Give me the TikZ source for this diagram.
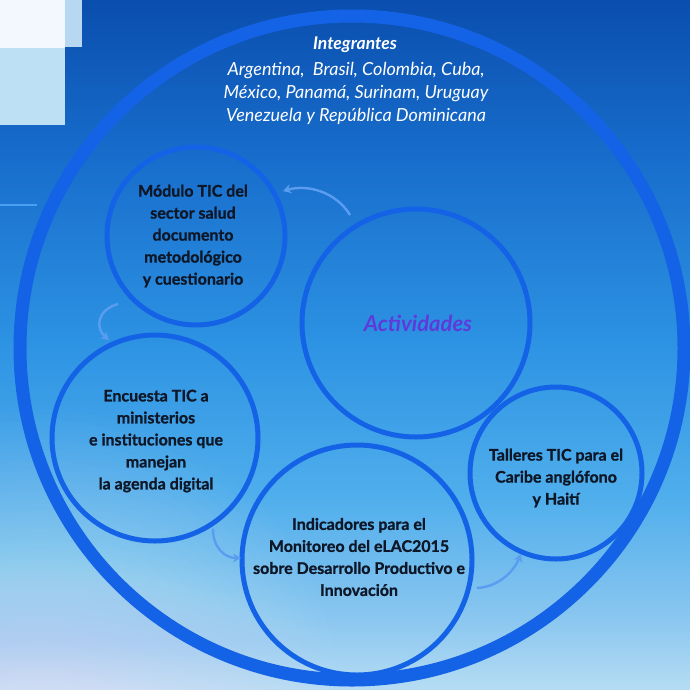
\documentclass[tikz,border=0pt]{standalone}
\usepackage{fontspec}
\setmainfont{Lato}
\newfontfamily\heavyfont[FakeBold=1.1]{Lato Bold}
\usetikzlibrary{arrows.meta}
\definecolor{bg0}{HTML}{0A4EAE}
\definecolor{bg1}{HTML}{176CCB}
\definecolor{bg2}{HTML}{2D93E3}
\definecolor{bg3}{HTML}{4FAEEC}
\definecolor{bg4}{HTML}{8BC7F0}
\definecolor{bg5}{HTML}{B5DCF3}
\definecolor{ring}{HTML}{1463E6}
\definecolor{arr}{HTML}{5A9DF0}
\definecolor{ink}{HTML}{0E1727}
\definecolor{act}{HTML}{5E3ADB}
\definecolor{rwhite}{HTML}{F2F8FD}
\definecolor{rpaleA}{HTML}{B8D8F1}
\definecolor{rpaleB}{HTML}{BEE0F5}
\definecolor{lline}{HTML}{4A9FF0}
\pgfdeclareverticalshading{bgshade}{100bp}{color(0bp)=(bg5); color(25bp)=(bg5); color(30bp)=(bg4); color(39bp)=(bg3); color(50bp)=(bg2); color(64bp)=(bg1); color(75bp)=(bg0); color(100bp)=(bg0)}
\tikzset{
  ringc/.style={draw=ring,line width=5pt},
  flow/.style={draw=arr,line width=2.4pt,-{Stealth[length=8pt,width=9pt]}},
  ctext/.style={align=center,text=ink,font=\fontsize{16}{22}\selectfont\heavyfont},
}
\begin{document}
\begin{tikzpicture}[x=1pt,y=-1pt]
\useasboundingbox (0,0) rectangle (690,689);
% background
\shade[shading=bgshade] (0,0) rectangle (690,689);
\begin{scope}
\clip (0,0) rectangle (690,689);
\foreach \r in {30,40,...,300} {\fill[white,opacity=0.018] (40,710) circle (\r);}
\end{scope}
% decorative rectangles top-left
\fill[rwhite] (0,0) rectangle (65,48);
\fill[rpaleA] (65,0) rectangle (82,47);
\fill[rpaleB] (0,48) rectangle (65,125);
\draw[lline,line width=2pt] (0,205) -- (37,205);
% big ring
\node[circle,draw=ring,line width=13pt,minimum size=664pt,inner sep=0] (big) at (352,348) {};
% title
\node[text=white,font=\fontsize{17.5}{20}\selectfont\bfseries\itshape] (tit) at (355,45) {Integrantes};
\node[text=white,align=center,font=\fontsize{18}{23}\selectfont\itshape] (mem) at (356,93)
  {Argentina,\ \ Brasil, Colombia, Cuba,\\México, Panamá, Surinam, Uruguay\\Venezuela y República Dominicana};
% circles
\node[circle,ringc,minimum size=228pt,inner sep=0] (act) at (416,323) {};
\node[text=act,font=\fontsize{22}{24}\selectfont\bfseries\itshape] (actl) at (418,323) {Actividades};
\node[circle,ringc,minimum size=178pt,inner sep=0] (mod) at (196,236) {};
\node[ctext] (modl) at (193,236) {Módulo TIC del\\sector salud\\documento\\metodológico\\y cuestionario};
\node[circle,ringc,minimum size=206pt,inner sep=0] (enc) at (155,438) {};
\node[ctext] (encl) at (156,441) {Encuesta TIC a\\ministerios\\e instituciones que\\manejan\\la agenda digital};
\node[circle,ringc,minimum size=230pt,inner sep=0] (ind) at (357,560) {};
\node[ctext] (indl) at (359,557) {Indicadores para el\\Monitoreo del eLAC2015\\sobre Desarrollo Productivo e\\Innovación};
\node[circle,ringc,minimum size=172pt,inner sep=0] (tal) at (556,473) {};
\node[ctext] (tall) at (556,478) {Talleres TIC para el\\Caribe anglófono\\y Haití};
% arrows
\coordinate (a1s) at (350,215); \coordinate (a1e) at (283,191);
\coordinate (a2s) at (118,304); \coordinate (a2e) at (109,340);
\coordinate (a3s) at (213,529); \coordinate (a3e) at (241,558);
\coordinate (a4s) at (477,588); \coordinate (a4e) at (521,554);
\draw[flow] (a1s) .. controls (336,192) and (308,184) .. (a1e);
\draw[flow] (a2s) .. controls (97,310) and (95,328) .. (a2e);
\draw[flow] (a3s) .. controls (213,548) and (225,558) .. (a3e);
\draw[flow] (a4s) .. controls (497,587) and (513,573) .. (a4e);
\end{tikzpicture}
\end{document}
